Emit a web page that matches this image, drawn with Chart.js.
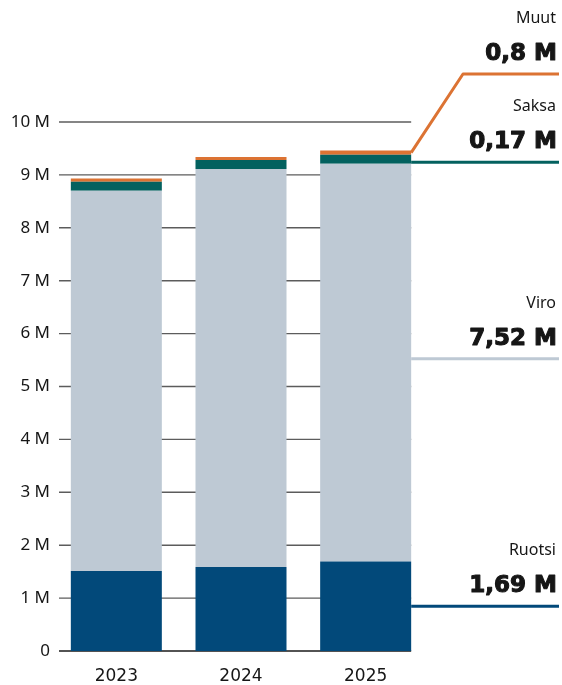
<!DOCTYPE html>
<html>
<head>
<meta charset="utf-8">
<script src="https://cdn.jsdelivr.net/npm/chart.js@4"></script>
<style>
  html, body { margin:0; padding:0; background:#fff; }
  #wrap { width:562px; height:685px; }
</style>
</head>
<body>
<div id="wrap"><canvas id="chart" width="562" height="685"></canvas></div>
<script>
// Stacked totals per year, millions
const years = ['2023', '2024', '2025'];
const ruotsi = [1.51, 1.59, 1.69];
const viro = [7.19, 7.52, 7.52];
const saksa = [0.17, 0.17, 0.17];
const muut = [0.06, 0.06, 0.08];

const seriesNames = ['Ruotsi', 'Viro', 'Saksa', 'Muut'];
const seriesColors = ['#02497a', '#bec9d4', '#03615f', '#dc7333'];
const valueLabels = ['1,69 M', '7,52 M', '0,17 M', '0,8 M'];
const yTicks = [0, 1, 2, 3, 4, 5, 6, 7, 8, 9, 10];

const FONT = '"Noto Sans", sans-serif';
const BOLD_FONT = '"DejaVu Sans", sans-serif';
const INK = '#161616';

// grid lines run from just right of the axis to the last bar's edge, under the bars
const gridPlugin = {
  id: 'gridLines',
  beforeDatasetsDraw(chart) {
    const { ctx, chartArea, scales } = chart;
    const lastMeta = chart.getDatasetMeta(0);
    const el = lastMeta.data[lastMeta.data.length - 1];
    const x0 = chartArea.left + 5;
    const x1 = el.x + el.width / 2;
    ctx.save();
    yTicks.forEach(v => {
      const y = scales.y.getPixelForValue(v);
      ctx.strokeStyle = v === 0 ? '#1a1a1a' : '#5c5c5c';
      ctx.lineWidth = 1.4;
      ctx.beginPath();
      ctx.moveTo(x0, y);
      ctx.lineTo(x1, y);
      ctx.stroke();
    });
    ctx.restore();
  }
};

// leader lines + labels to the right of the latest bar
const leaderPlugin = {
  id: 'leaders',
  afterDatasetsDraw(chart) {
    const { ctx } = chart;
    const nudge = [0, -4, 3, 0];
    const xEnd = 559;
    ctx.save();
    chart.data.datasets.forEach((ds, i) => {
      const meta = chart.getDatasetMeta(i);
      const el = meta.data[meta.data.length - 1];
      const x0 = el.x + el.width / 2;
      const yMid = (el.y + el.base) / 2 + nudge[i];
      let yLine = yMid;
      ctx.strokeStyle = seriesColors[i];
      ctx.lineWidth = 3;
      ctx.beginPath();
      ctx.moveTo(x0, yMid);
      if (i === 3) {
        yLine = 74;
        ctx.lineTo(463, yLine);
      }
      ctx.lineTo(xEnd, yLine);
      ctx.stroke();

      ctx.fillStyle = INK;
      ctx.strokeStyle = INK;
      ctx.textAlign = 'right';
      ctx.textBaseline = 'alphabetic';
      // heavy value text: bold fill plus a thin outline
      ctx.font = 'bold 23px ' + BOLD_FONT;
      ctx.lineWidth = 1.1;
      ctx.lineJoin = 'round';
      ctx.fillText(valueLabels[i], 557, yLine - 14);
      ctx.strokeText(valueLabels[i], 557, yLine - 14);
      ctx.font = '16px ' + FONT;
      ctx.fillText(seriesNames[i], 556, yLine - 51);
    });
    ctx.restore();
  }
};

const seriesData = [ruotsi, viro, saksa, muut];

new Chart(document.getElementById('chart'), {
  type: 'bar',
  data: {
    labels: years,
    datasets: seriesData.map((d, i) => ({
      label: seriesNames[i],
      data: d,
      backgroundColor: seriesColors[i],
      borderWidth: 0,
      categoryPercentage: 1,
      barPercentage: 0.73
    }))
  },
  options: {
    responsive: false,
    animation: false,
    layout: { padding: { top: 122, right: 134, bottom: 0, left: 0 } },
    plugins: { legend: { display: false }, tooltip: { enabled: false } },
    scales: {
      x: {
        stacked: true,
        grid: { display: false, drawTicks: false },
        border: { display: false },
        ticks: { color: INK, font: { family: BOLD_FONT, size: 17 }, padding: 15 },
        afterFit: s => { s.height = 34; }
      },
      y: {
        stacked: true,
        min: 0,
        max: 10,
        grid: { display: false, drawTicks: false },
        border: { display: false },
        ticks: {
          stepSize: 1,
          padding: 4,
          color: INK,
          font: { family: FONT, size: 17 },
          callback: v => v === 0 ? '0' : v + ' M'
        },
        afterFit: s => { s.width = 54; }
      }
    }
  },
  plugins: [gridPlugin, leaderPlugin]
});
</script>
</body>
</html>
